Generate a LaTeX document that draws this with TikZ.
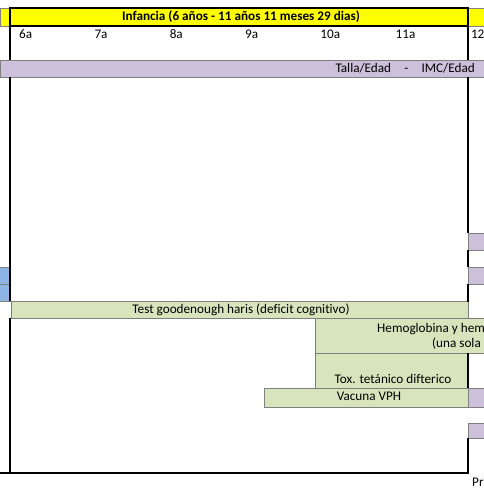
\documentclass[tikz,border=0pt]{standalone}
\usepackage{fontspec}
\setmainfont{Carlito}[Ligatures={NoCommon}]
\definecolor{amarillo}{HTML}{FFFF00}
\definecolor{lila}{HTML}{CCC0DA}
\definecolor{celeste}{HTML}{8DB4E2}
\definecolor{verde}{HTML}{D8E4BC}
\definecolor{borde}{HTML}{7F7F7F}
\begin{document}
\begin{tikzpicture}[x=1pt,y=-1pt,
  txt/.style={inner sep=0pt,text height=9pt,text depth=3pt,
    font=\fontsize{13.2}{15}\selectfont},
  cell/.style={draw=borde,line width=0.8pt},
  frame/.style={line width=2.4pt,line join=miter}]
  \useasboundingbox (0,0) rectangle (484,495);
  \clip (0,0) rectangle (484,495);

  % header and bands
  \filldraw[cell,fill=amarillo] (0,8) rectangle (484,26);
  \filldraw[cell,fill=lila] (0,60) rectangle (484,77);
  \filldraw[cell,fill=celeste] (-2,267) rectangle (10,284);
  \filldraw[cell,fill=celeste] (-2,284) rectangle (10,301);
  \filldraw[cell,fill=verde] (11,301) rectangle (468,318);
  \filldraw[cell,fill=verde] (315,318) rectangle (486,353);
  \filldraw[cell,fill=verde] (315,353) rectangle (468,388);
  \filldraw[cell,fill=verde] (264,388) rectangle (468,407);
  \foreach \ya/\yb in {233/250,267/284,388/407,423/438}
    \filldraw[cell,fill=lila] (468,\ya) rectangle (486,\yb);

  % thick outline
  \draw[frame] (10,60) -- (10,8) -- (468,8) -- (468,60);
  \draw[frame] (10,26) -- (468,26);
  \draw[frame] (10,77) -- (10,301);
  \draw[frame] (10,318) -- (10,473);
  \draw[frame] (0,473) -- (468,473) -- (468,438);
  \draw[frame] (468,77) -- (468,233);
  \draw[frame] (468,250) -- (468,267);
  \draw[frame] (468,284) -- (468,302);
  \draw[frame] (468,353) -- (468,388);

  % texts
  \node[txt,font=\fontsize{13.2}{15}\selectfont\bfseries] (titulo) at (241,17.5)
    {Infancia (6 años - 11 años 11 meses 29 dias)};
  \foreach \a [count=\i from 0] in {6a,7a,8a,9a,10a,11a,12}
    \node[txt,anchor=west] (edad\i) at ({19+75.3*\i},36) {\a};
  \node[txt,anchor=east] (antropo) at (475,69)
    {Talla/Edad\hspace{1em}-\hspace{1em}IMC/Edad};
  \node[txt] (goodenough) at (241,310) {Test goodenough haris (deficit cognitivo)};
  \node[txt,anchor=west] (hemo) at (377,329) {Hemoglobina y hem};
  \node[txt,anchor=west] (hemovez) at (432,344) {(una sola};
  \node[txt] (toxoide) at (393,380) {Tox. tetánico difterico};
  \node[txt] (vph) at (369,397) {Vacuna VPH};
  \node[txt,anchor=west] (pie) at (472,483) {Pr};
\end{tikzpicture}
\end{document}
